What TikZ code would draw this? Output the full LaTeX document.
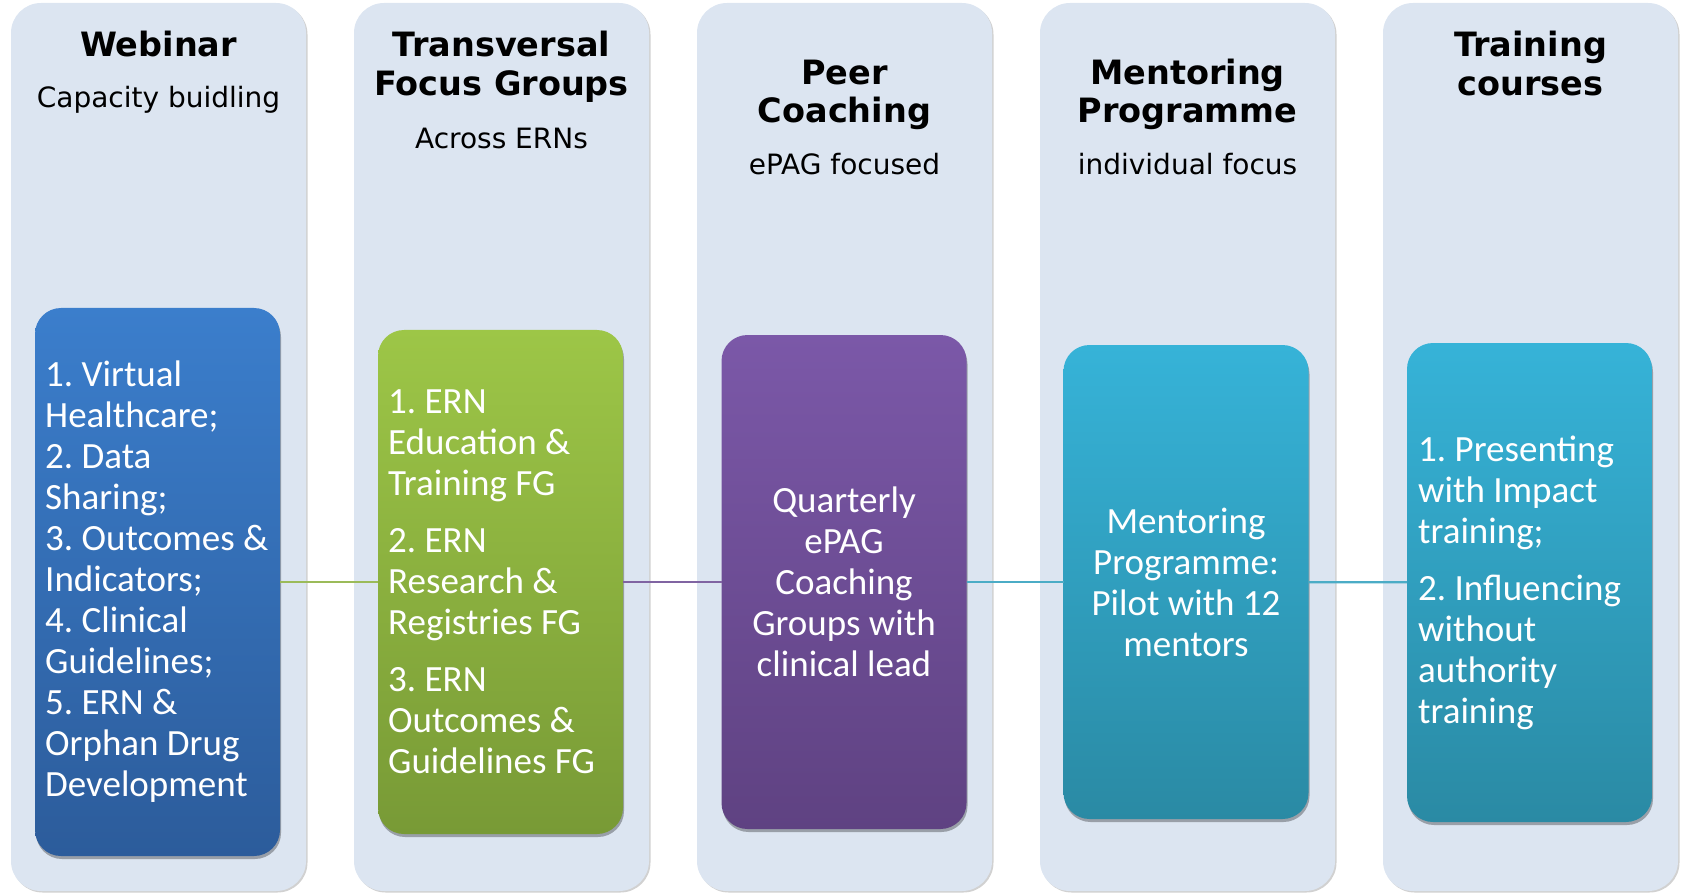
\documentclass[tikz,border=0pt]{standalone}
\usepackage{fontspec}
\setmainfont{Carlito}
\newfontfamily\titlefont{DejaVu Sans}
\usetikzlibrary{shadows}
\frenchspacing
\definecolor{colbg}{RGB}{220,229,241}
\definecolor{blueTop}{RGB}{59,126,204}
\definecolor{blueBot}{RGB}{44,92,155}
\definecolor{greenTop}{RGB}{157,198,71}
\definecolor{greenBot}{RGB}{120,154,54}
\definecolor{purpTop}{RGB}{123,88,168}
\definecolor{purpBot}{RGB}{95,66,130}
\definecolor{tealTop}{RGB}{54,179,216}
\definecolor{tealBot}{RGB}{42,138,164}
\definecolor{lnGreen}{RGB}{155,187,89}
\definecolor{lnPurple}{RGB}{128,100,162}
\definecolor{lnTeal}{RGB}{75,172,198}
\tikzset{
  column/.style={fill=colbg, rounded corners=30pt, minimum width=295pt, minimum height=888pt,
    inner sep=0pt, outer sep=0pt,
    drop shadow={shadow xshift=1.5pt, shadow yshift=-1.5pt, opacity=0.18, fill=black}},
  innerbox/.style={rounded corners=26pt, minimum width=245pt, inner sep=0pt, outer sep=0pt,
    drop shadow={shadow xshift=1pt, shadow yshift=-3pt, opacity=0.3, fill=black}},
  titletext/.style={font=\titlefont\bfseries\fontsize{33.5}{40}\selectfont, anchor=base, inner sep=0pt},
  subtext/.style={font=\titlefont\fontsize{28}{34}\selectfont, anchor=base, inner sep=0pt},
  bodytext/.style={text=white, font=\frenchspacing\fontsize{37}{41}\selectfont, inner sep=0pt},
  link/.style={line width=2.2pt}
}
\begin{document}
\begin{tikzpicture}[x=1pt,y=-1pt]
\useasboundingbox (0,0) rectangle (1684,893);
% columns
\node[column] (c1) at (158.5,447) {};
\node[column] (c2) at (501.5,447) {};
\node[column] (c3) at (844.5,447) {};
\node[column] (c4) at (1187.5,447) {};
\node[column] (c5) at (1530.5,447) {};
% headings
\node[titletext] (t1) at (158.5,57) {Webinar};
\node[subtext] (s1) at (158.5,108) {Capacity buidling};
\node[titletext] (t2a) at (501.5,57) {Transversal};
\node[titletext] (t2b) at (501.5,96) {Focus Groups};
\node[subtext] (s2) at (501.5,149) {Across ERNs};
\node[titletext] (t3a) at (844.5,85) {Peer};
\node[titletext] (t3b) at (844.5,123) {Coaching};
\node[subtext] (s3) at (844.5,175) {ePAG focused};
\node[titletext] (t4a) at (1187.5,85) {Mentoring};
\node[titletext] (t4b) at (1187.5,123) {Programme};
\node[subtext] (s4) at (1187.5,175) {individual focus};
\node[titletext] (t5a) at (1530.5,57) {Training};
\node[titletext] (t5b) at (1530.5,96) {courses};
% inner boxes
\node[innerbox, minimum height=548pt, top color=blueTop, bottom color=blueBot] (b1) at (157.5,582) {};
\node[innerbox, minimum height=504pt, top color=greenTop, bottom color=greenBot] (b2) at (500.5,582) {};
\node[innerbox, minimum height=494pt, top color=purpTop, bottom color=purpBot] (b3) at (844,582) {};
\node[innerbox, minimum height=474pt, top color=tealTop, bottom color=tealBot] (b4) at (1186,582) {};
\node[innerbox, minimum height=479pt, top color=tealTop, bottom color=tealBot] (b5) at (1529.5,582.5) {};
% connectors
\draw[link, lnGreen] (b1) -- (b2);
\draw[link, lnPurple] (b2) -- (b3);
\draw[link, lnTeal] (b3) -- (b4);
\draw[link, lnTeal] (b4) -- (b5);
% texts
\node[bodytext, align=left, anchor=west] (x1) at ([xshift=10pt]b1.west) {1. Virtual\\Healthcare;\\2. Data\\Sharing;\\3. Outcomes \&\\Indicators;\\4. Clinical\\Guidelines;\\5. ERN \&\\Orphan Drug\\Development};
\node[bodytext, align=left, anchor=west] (x2) at ([xshift=10pt]b2.west) {1. ERN\\Education \&\\Training FG\\[16pt]2. ERN\\Research \&\\Registries FG\\[16pt]3. ERN\\Outcomes \&\\Guidelines FG};
\node[bodytext, align=center] (x3) at (b3.center) {Quarterly\\ePAG\\Coaching\\Groups with\\clinical lead};
\node[bodytext, align=center] (x4) at (b4.center) {Mentoring\\Programme:\\Pilot with 12\\mentors};
\node[bodytext, align=left, anchor=west] (x5) at ([xshift=11pt]b5.west) {1. Presenting\\with Impact\\training;\\[16pt]2. Influencing\\without\\authority\\training};
\end{tikzpicture}
\end{document}
